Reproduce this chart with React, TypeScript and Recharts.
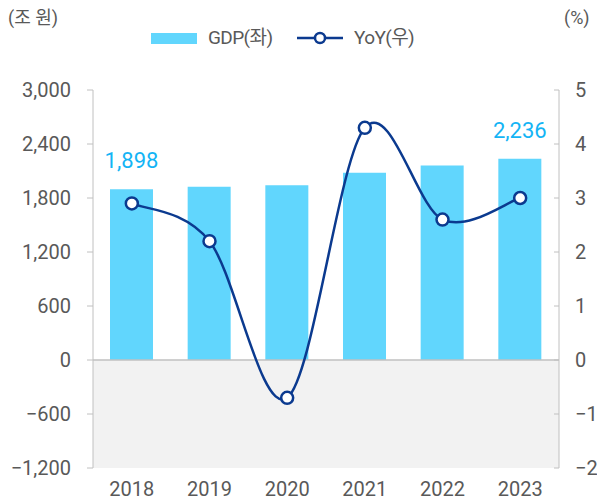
import React from "react";
import {
  ComposedChart,
  Bar,
  Line,
  XAxis,
  YAxis,
  ReferenceArea,
  ReferenceLine,
  LabelList,
} from "recharts";

const years = ["2018", "2019", "2020", "2021", "2022", "2023"];
const gdp = [1898, 1924, 1941, 2080, 2162, 2236];
const yoy = [2.9, 2.2, -0.7, 4.3, 2.6, 3.0];
const leftTicks = [-1200, -600, 0, 600, 1200, 1800, 2400, 3000];
const rightTicks = [-2, -1, 0, 1, 2, 3, 4, 5];

const data = years.map((year, i) => ({ year, gdp: gdp[i], yoy: yoy[i] }));

const FONT = "Roboto, 'Noto Sans CJK KR', sans-serif";
const TICK = "#595959";
const AXIS = "#c0c0c0";
const BAR = "#61d6fd";
const LINE = "#0b3a8f";
const LABEL = "#14b4f5";

const fmt = (v: number) => v.toLocaleString("en-US").replace("-", "\u2212");

// excel-like smoothed line (catmull-rom bezier)
const smoothCurve = (context: any) => {
  let pts: number[][] = [];
  return {
    areaStart() {},
    areaEnd() {},
    lineStart() {
      pts = [];
    },
    point(x: number, y: number) {
      pts.push([+x, +y]);
    },
    lineEnd() {
      if (!pts.length) return;
      context.moveTo(pts[0][0], pts[0][1]);
      for (let i = 0; i < pts.length - 1; i++) {
        const p0 = pts[Math.max(i - 1, 0)];
        const p1 = pts[i];
        const p2 = pts[i + 1];
        const p3 = pts[Math.min(i + 2, pts.length - 1)];
        context.bezierCurveTo(
          p1[0] + (p2[0] - p0[0]) / 6,
          p1[1] + (p2[1] - p0[1]) / 6,
          p2[0] - (p3[0] - p1[0]) / 6,
          p2[1] - (p3[1] - p1[1]) / 6,
          p2[0],
          p2[1]
        );
      }
    },
  };
};

const RightTick = (props: any) => {
  const { x, y, payload } = props;
  const axisX = x - 16;
  return (
    <g>
      <line x1={axisX - 5} y1={y} x2={axisX} y2={y} stroke={AXIS} />
      <text x={x} y={y} dy="0.355em" fill={TICK} fontSize={20} fontFamily={FONT}>
        {String(payload.value).replace("-", "\u2212")}
      </text>
    </g>
  );
};

const EndLabel = (props: any) => {
  const { x, y, width, value, index } = props;
  if (index !== 0 && index !== years.length - 1) return null;
  return (
    <text x={x + width / 2} y={y - 21} textAnchor="middle" fill={LABEL} fontSize={22} fontFamily={FONT}>
      {fmt(value)}
    </text>
  );
};

export default function App() {
  return (
    <div style={{ position: "absolute", left: 0, top: 0, width: 597, height: 502, fontFamily: FONT }}>
      <div style={{ position: "absolute", left: 8, top: 7, fontSize: 18, color: TICK, lineHeight: "22px" }}>(조 원)</div>
      <div style={{ position: "absolute", left: 564, top: 7, fontSize: 18, color: TICK, lineHeight: "22px" }}>(%)</div>
      <div style={{ position: "absolute", left: 151, top: 33, width: 46, height: 11, background: BAR }} />
      <div style={{ position: "absolute", left: 208, top: 27, fontSize: 19, color: TICK, lineHeight: "22px", letterSpacing: -0.6 }}>
        GDP(좌)
      </div>
      <svg width={48} height={16} style={{ position: "absolute", left: 296, top: 30 }}>
        <line x1={1} y1={8} x2={47} y2={8} stroke={LINE} strokeWidth={2.5} />
        <circle cx={24} cy={8} r={5} fill="#fff" stroke={LINE} strokeWidth={2.5} />
      </svg>
      <div style={{ position: "absolute", left: 354, top: 27, fontSize: 19, color: TICK, lineHeight: "22px", letterSpacing: -0.6 }}>
        YoY(우)
      </div>
      <ComposedChart
        width={597}
        height={502}
        data={data}
        margin={{ top: 90, right: 0, bottom: 0, left: 0 }}
        style={{ position: "absolute", left: 0, top: 0 }}
      >
        <XAxis
          dataKey="year"
          axisLine={false}
          tickLine={false}
          tickSize={0}
          tickMargin={14}
          height={34}
          tick={{ fill: TICK, fontSize: 20, fontFamily: FONT }}
        />
        <YAxis
          yAxisId="left"
          domain={[-1200, 3000]}
          ticks={leftTicks}
          interval={0}
          width={93}
          stroke={AXIS}
          tickSize={6}
          tickMargin={16}
          tickFormatter={fmt}
          tick={{ fill: TICK, fontSize: 20, fontFamily: FONT }}
        />
        <YAxis
          yAxisId="right"
          orientation="right"
          domain={[-2, 5]}
          ticks={rightTicks}
          interval={0}
          width={38}
          stroke={AXIS}
          tickLine={false}
          tickSize={0}
          tickMargin={16}
          tick={<RightTick />}
        />
        <ReferenceArea yAxisId="left" y1={-1200} y2={0} fill="#f2f2f2" fillOpacity={1} stroke="none" ifOverflow="visible" />
        <ReferenceLine yAxisId="left" y={0} stroke={AXIS} strokeWidth={1.5} />
        <Bar yAxisId="left" dataKey="gdp" fill={BAR} barSize={43} isAnimationActive={false}>
          <LabelList dataKey="gdp" content={<EndLabel />} />
        </Bar>
        <Line
          yAxisId="right"
          type={smoothCurve as any}
          dataKey="yoy"
          stroke={LINE}
          strokeWidth={2.5}
          dot={{ r: 6, fill: "#fff", stroke: LINE, strokeWidth: 2.5 }}
          isAnimationActive={false}
        />
      </ComposedChart>
    </div>
  );
}
